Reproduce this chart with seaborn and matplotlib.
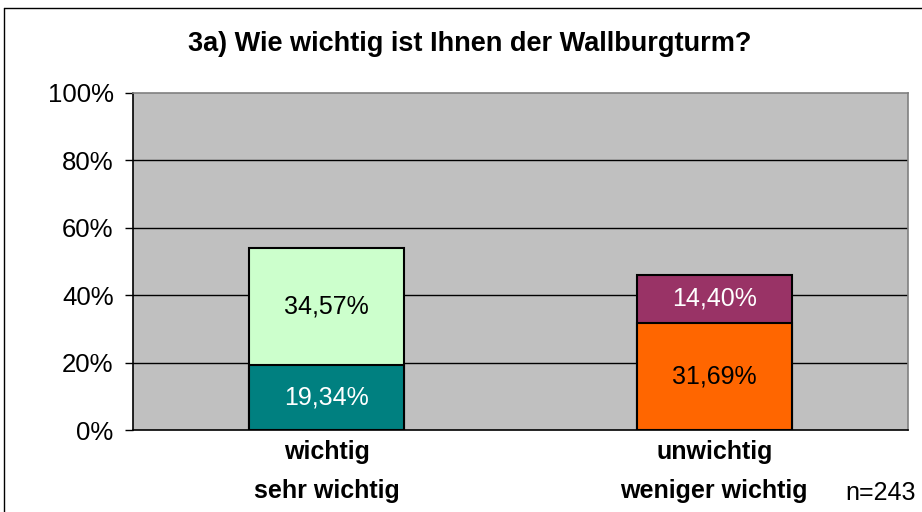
import numpy as np
import pandas as pd
import seaborn as sns
import matplotlib.pyplot as plt
from matplotlib.lines import Line2D

categories = ["wichtig\nsehr wichtig", "unwichtig\nweniger wichtig"]
bottom_values = [19.34, 31.69]   # sehr wichtig / unwichtig
top_values = [34.57, 14.40]      # wichtig / weniger wichtig
bottom_colors = ["#008080", "#FF6600"]
top_colors = ["#CCFFCC", "#993366"]
bottom_text = ["white", "black"]
top_text = ["black", "white"]
y_ticks = [0, 20, 40, 60, 80, 100]

sns.set_style("white")
plt.rcParams['font.family'] = ['Liberation Sans', 'DejaVu Sans']
plt.rcParams['text.color'] = 'black'
plt.rcParams['xtick.color'] = 'black'
plt.rcParams['ytick.color'] = 'black'

df = pd.DataFrame({
    "cat": categories,
    "bottom": bottom_values,
    "total": np.array(bottom_values) + np.array(top_values),
})

fig = plt.figure(figsize=(9.22, 5.12), dpi=100)
ax = fig.add_axes([133 / 922, 82 / 512, 775 / 922, 337 / 512])
ax.set_facecolor("#C0C0C0")

sns.barplot(data=df, x="cat", y="total", hue="cat", palette=top_colors, saturation=1,
            width=0.4, edgecolor="black", linewidth=1.5, legend=False, ax=ax, zorder=3)
sns.barplot(data=df, x="cat", y="bottom", hue="cat", palette=bottom_colors, saturation=1,
            width=0.4, edgecolor="black", linewidth=1.5, legend=False, ax=ax, zorder=3)

for i in range(len(categories)):
    b = bottom_values[i]
    t = top_values[i]
    ax.text(i, b / 2, f"{b:.2f}%".replace(".", ","), ha="center", va="center",
            fontsize=18, color=bottom_text[i], zorder=4)
    ax.text(i, b + t / 2, f"{t:.2f}%".replace(".", ","), ha="center", va="center",
            fontsize=18, color=top_text[i], zorder=4)

ax.set_ylim(0, 100)
ax.set_yticks(y_ticks)
ax.set_yticklabels([f"{v}%" for v in y_ticks], fontsize=18.5)
for v in y_ticks[1:-1]:
    ax.axhline(v, color="black", linewidth=1, zorder=1)
ax.set_xlim(-0.5, 1.5)
ax.set_xlabel("")
ax.set_ylabel("")
ax.tick_params(axis="y", left=True, length=6, width=1, color="black", pad=8)
ax.tick_params(axis="x", bottom=False, pad=4)
for lbl in ax.get_xticklabels():
    lbl.set_fontweight("bold")
    lbl.set_fontsize(18)
    lbl.set_linespacing(1.75)

for s in ["top", "right"]:
    ax.spines[s].set_color("#808080")
for s in ["left", "bottom"]:
    ax.spines[s].set_color("black")
for s in ax.spines.values():
    s.set_linewidth(1.2)

fig.text(470 / 922, 1 - 44 / 512, "3a) Wie wichtig ist Ihnen der Wallburgturm?",
         ha="center", va="center", fontsize=19.5, fontweight="bold")
fig.text(881 / 922, 1 - 493 / 512, "n=243", ha="center", va="center", fontsize=18)

# outer chart frame (top and left edges visible)
fig.add_artist(Line2D([4 / 922, 1], [1 - 8 / 512, 1 - 8 / 512], color="black", linewidth=1))
fig.add_artist(Line2D([4 / 922, 4 / 922], [0, 1 - 8 / 512], color="black", linewidth=1))

fig.savefig("out.png", dpi=100)
